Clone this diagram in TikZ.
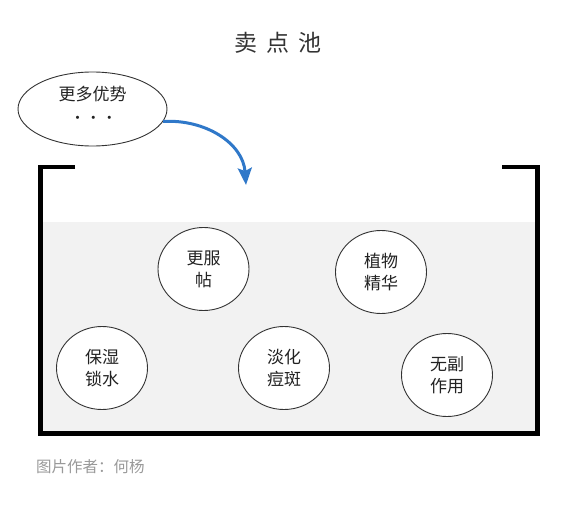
\documentclass[tikz,border=0pt]{standalone}
\usepackage{fontspec}
\setmainfont{Noto Sans CJK SC}
\usetikzlibrary{arrows.meta,shapes.geometric}
\definecolor{txt}{HTML}{222222}
\definecolor{pool}{HTML}{F2F2F2}
\definecolor{arrowblue}{HTML}{2F78C9}
\definecolor{foot}{HTML}{999999}
\tikzset{
  bubble/.style={ellipse,draw=black!80,line width=0.9pt,fill=white,minimum width=91pt,minimum height=83pt,inner sep=0pt,align=center,text=txt,font=\fontsize{17pt}{22pt}\selectfont},
  idea/.style={ellipse,draw=black!80,line width=0.9pt,fill=white,minimum width=149pt,minimum height=74pt,inner sep=0pt,align=center,text=txt,font=\fontsize{17pt}{20pt}\selectfont},
  poolwall/.style={line width=4.5pt,line join=miter,black},
  feed/.style={arrowblue,line width=3pt,-{Stealth[length=17pt,width=14pt,inset=3pt]}}
}
\begin{document}
\begin{tikzpicture}[x=1pt,y=-1pt]
\useasboundingbox (0,0) rectangle (565,506);
% title
\node[text=black!80,font=\fontsize{23pt}{26pt}\selectfont] (title) at (278,43) {卖\hspace{9pt}点\hspace{9pt}池};
% pool
\fill[pool] (43,222) rectangle (535,431);
\coordinate (lt) at (75,167);
\coordinate (rt) at (502,167);
\draw[poolwall] (lt) -- (40.5,167) -- (40.5,433.5) -- (537.5,433.5) -- (537.5,167) -- (rt);
% idea ellipse
\node[idea] (more) at (92.5,109) {};
\node[text=txt,font=\fontsize{17pt}{20pt}\selectfont,inner sep=0pt] (moretxt) at (92.5,94) {更多优势};
\node[text=txt,font=\fontsize{15pt}{18pt}\selectfont,inner sep=0pt] (moredots) at (93.5,120) {·\hspace{1pt}·\hspace{1pt}·};
\coordinate (tip) at (246,185);
\draw[feed] (more.-10) .. controls (205,119) and (243,143) .. (tip);
% bubbles
\node[bubble] (b1) at (203.5,269) {更服\\帖};
\node[bubble] (b2) at (381,272) {植物\\精华};
\node[bubble] (b3) at (102,368) {保湿\\锁水};
\node[bubble] (b4) at (284,368) {淡化\\痘斑};
\node[bubble] (b5) at (447,375) {无副\\作用};
% footer
\node[anchor=west,text=foot,font=\fontsize{15.5pt}{18pt}\selectfont,inner sep=0pt] (foot) at (36,467) {图片作者：何杨};
\end{tikzpicture}
\end{document}
